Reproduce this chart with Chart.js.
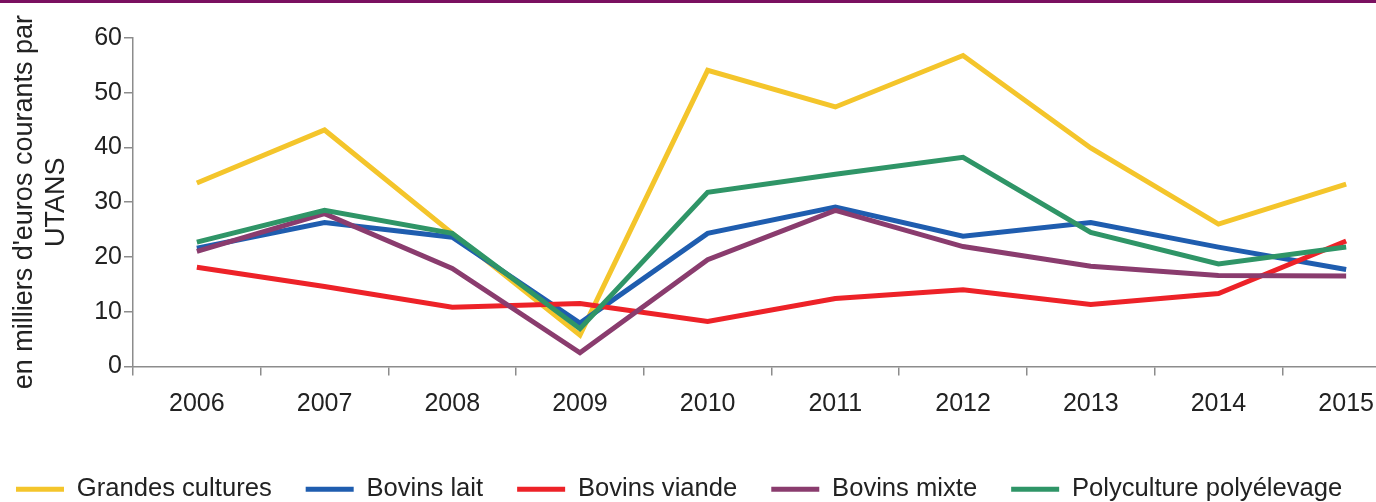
<!DOCTYPE html>
<html>
<head>
<meta charset="utf-8">
<script src="https://cdn.jsdelivr.net/npm/chart.js@4"></script>
<style>
  html, body { margin: 0; padding: 0; background: #fff; }
  #frame { position: relative; width: 1376px; height: 502px; overflow: hidden; }
  #topbar { position: absolute; left: 0; top: 0; width: 100%; height: 3px; background: #7a1060; z-index: 2; }
  #box { position: absolute; left: -18px; top: 0; width: 1432px; height: 512px; }
</style>
</head>
<body>
<div id="frame">
  <div id="topbar"></div>
  <div id="box"><canvas id="chart"></canvas></div>
</div>
<script>
// Years on the x axis
const years = ['2006', '2007', '2008', '2009', '2010', '2011', '2012', '2013', '2014', '2015'];

// Values (thousands of euros per UTANS)
const grandesCultures = [33.5, 43.2, 24.3, 5.7, 54.1, 47.4, 56.8, 39.9, 26.0, 33.3];
const bovinsLait      = [21.6, 26.3, 23.6, 7.9, 24.3, 29.1, 23.8, 26.3, 21.8, 17.7];
const bovinsViande    = [18.1, 14.6, 10.8, 11.5, 8.2, 12.4, 14.0, 11.3, 13.3, 22.9];
const bovinsMixte     = [21.0, 27.9, 17.9, 2.5, 19.5, 28.5, 21.9, 18.3, 16.6, 16.5];
const polyculture     = [22.7, 28.5, 24.3, 6.9, 31.8, 35.1, 38.2, 24.5, 18.7, 21.8];

const seriesNames  = ['Grandes cultures', 'Bovins lait', 'Bovins viande', 'Bovins mixte', 'Polyculture polyélevage'];
const seriesColors = ['#f4c52b', '#1f5daf', '#ed2228', '#8a3c6e', '#2f9567'];
const yTicks = [0, 10, 20, 30, 40, 50, 60];

const allSeries = [grandesCultures, bovinsLait, bovinsViande, bovinsMixte, polyculture];

const FONT = "'Liberation Sans', Arial, Helvetica, sans-serif";
const AXIS_GREY = '#8c8c8c';

// Excel draws the last series on top, so give it the lowest order
const datasets = allSeries.map((values, i) => ({
  label: seriesNames[i],
  data: values,
  borderColor: seriesColors[i],
  backgroundColor: seriesColors[i],
  borderWidth: 5,
  pointRadius: 0,
  pointHoverRadius: 0,
  pointBorderWidth: 5,
  pointBorderColor: seriesColors[i],
  tension: 0,
  order: allSeries.length - 1 - i,
}));

const ctx = document.getElementById('chart').getContext('2d');
new Chart(ctx, {
  type: 'line',
  data: { labels: years, datasets: datasets },
  options: {
    responsive: true,
    maintainAspectRatio: false,
    animation: false,
    layout: { padding: { top: 38, left: 0, right: 4, bottom: 0 } },
    plugins: {
      tooltip: { enabled: false },
      legend: {
        position: 'bottom',
        align: 'start',
        reverse: true,
        labels: {
          usePointStyle: true,
          pointStyle: 'line',
          pointStyleWidth: 48,
          padding: 34,
          color: '#222',
          font: { family: FONT, size: 25.6 },
        },
      },
    },
    scales: {
      x: {
        offset: true,
        afterFit: function(scale) { scale.height = 76; },
        grid: {
          display: true,
          offset: true,
          drawOnChartArea: false,
          drawTicks: true,
          tickLength: 9,
          color: AXIS_GREY,
          lineWidth: 1.5,
        },
        border: { display: true, color: AXIS_GREY, width: 1.5 },
        ticks: {
          color: '#222',
          padding: 14,
          maxRotation: 0,
          autoSkip: false,
          font: { family: FONT, size: 25 },
        },
      },
      y: {
        min: 0,
        max: 60,
        afterFit: function(scale) { scale.width = 151; },
        afterBuildTicks: function(scale) {
          scale.ticks = yTicks.map(v => ({ value: v }));
        },
        grid: {
          display: true,
          drawOnChartArea: false,
          drawTicks: true,
          tickLength: 9,
          color: AXIS_GREY,
          lineWidth: 1.5,
        },
        border: { display: true, color: AXIS_GREY, width: 1.5 },
        ticks: {
          color: '#222',
          padding: 2,
          font: { family: FONT, size: 25 },
        },
        title: {
          display: true,
          text: ["en milliers d'euros courants par", 'UTANS'],
          color: '#222',
          padding: { top: 26, bottom: 0 },
          font: { family: FONT, size: 27, lineHeight: 1.2 },
        },
      },
    },
  },
});
</script>
</body>
</html>
